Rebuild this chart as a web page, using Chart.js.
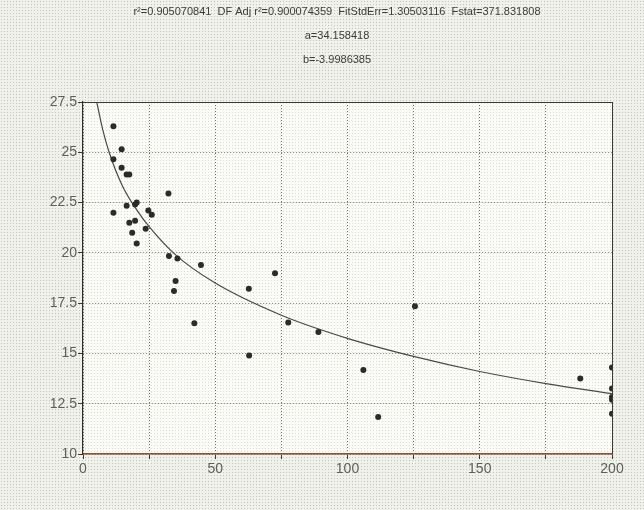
<!DOCTYPE html>
<html>
<head>
<meta charset="utf-8">
<script src="https://cdn.jsdelivr.net/npm/chart.js@4.4.1/dist/chart.umd.min.js"></script>
<style>
  html, body { margin: 0; padding: 0; background: #ebebe6; }
  #wrap { width: 644px; height: 510px; }
</style>
</head>
<body>
<div id="wrap"><canvas id="fit" width="644" height="510"></canvas></div>
<script>
const obsX = [11.5, 14.6, 11.5, 14.6, 16.5, 17.5, 32.3, 16.5, 19.7, 20.3, 11.5, 24.7, 26.0, 17.5, 19.7,
              23.7, 18.6, 20.3, 32.5, 35.7, 44.6, 35.0, 34.4, 42.1, 62.7, 62.8, 72.6, 77.6, 89.0, 125.5,
              106.0, 111.6, 188.0, 200, 200, 200, 200, 200];
const obsY = [26.3, 25.15, 24.65, 24.23, 23.9, 23.9, 22.95, 22.34, 22.4, 22.5, 22.0, 22.1, 21.9, 21.5, 21.6,
              21.2, 21.0, 20.47, 19.84, 19.72, 19.4, 18.6, 18.1, 16.5, 18.22, 14.9, 18.98, 16.54, 16.07, 17.35,
              14.17, 11.84, 13.75, 14.3, 13.26, 12.84, 12.7, 12.0];

// fitted curve, points
const fitX = [5.2, 7.5, 10, 15, 20, 25, 35, 50, 75, 100, 125, 150, 175, 200];
const fitY = [27.5, 26.1, 24.95, 23.3, 22.2, 21.3, 19.9, 18.5, 16.9, 15.75, 14.85, 14.1, 13.5, 13.0];

const xMin = 0, xMax = 200, xStep = 25;
const xLabeled = [0, 50, 100, 150, 200];
const yMin = 10, yMax = 27.5, yStep = 2.5;

const titleLines = [
    "r\u00b2=0.905070841  DF Adj r\u00b2=0.900074359  FitStdErr=1.30503116  Fstat=371.831808",
    "a=34.158418",
    "b=-3.9986385"
];

// dotted screen texture like the scanned original
function dotPattern(ctx, bg, dot) {
    const c = document.createElement('canvas');
    c.width = 3; c.height = 3;
    const g = c.getContext('2d');
    g.fillStyle = bg; g.fillRect(0, 0, 3, 3);
    g.fillStyle = dot; g.fillRect(1, 1, 1, 1);
    return ctx.createPattern(c, 'repeat');
}

const paperBg = {
    id: 'paperBg',
    beforeDraw(chart) {
        const { ctx, chartArea: a } = chart;
        ctx.save();
        ctx.fillStyle = dotPattern(ctx, '#f1f1ec', '#c4c4bc');
        ctx.fillRect(0, 0, chart.width, chart.height);
        ctx.fillStyle = dotPattern(ctx, '#fbfbf8', '#dcdcd4');
        ctx.fillRect(a.left, a.top, a.right - a.left, a.bottom - a.top);
        ctx.restore();
    },
    afterDraw(chart) {
        const { ctx, chartArea: a } = chart;
        ctx.save();
        // frame top and right
        ctx.strokeStyle = '#3a3a36';
        ctx.lineWidth = 1;
        ctx.beginPath();
        ctx.moveTo(a.left, a.top + 0.5);
        ctx.lineTo(a.right + 0.5, a.top + 0.5);
        ctx.lineTo(a.right + 0.5, a.bottom);
        ctx.stroke();
        // fit statistics, centred a bit right of the canvas middle like the original
        ctx.fillStyle = '#3c3c38';
        ctx.font = '11px "Liberation Sans", Arial, sans-serif';
        ctx.textAlign = 'center';
        ctx.textBaseline = 'middle';
        titleLines.forEach((t, i) => ctx.fillText(t, 337, 12 + i * 24));
        ctx.restore();
    }
};

const ctx = document.getElementById('fit').getContext('2d');
new Chart(ctx, {
    type: 'scatter',
    data: {
        datasets: [
            {
                label: 'fit',
                data: fitX.map((x, i) => ({ x: x, y: fitY[i] })),
                showLine: true,
                borderColor: '#4a4a46',
                borderWidth: 1.2,
                pointRadius: 0,
                cubicInterpolationMode: 'monotone',
                fill: false,
                order: 2
            },
            {
                label: 'data',
                data: obsX.map((x, i) => ({ x: x, y: obsY[i] })),
                backgroundColor: '#2b2b27',
                borderColor: '#2b2b27',
                pointRadius: 3,
                borderWidth: 0,
                order: 1
            }
        ]
    },
    options: {
        responsive: false,
        animation: false,
        layout: { padding: { left: 0, right: 32, top: 102, bottom: 0 } },
        scales: {
            x: {
                type: 'linear',
                min: xMin,
                max: xMax,
                afterFit(scale) { scale.height = 56; },
                ticks: {
                    stepSize: xStep,
                    autoSkip: false,
                    maxRotation: 0,
                    padding: 2,
                    color: '#5e5e5a',
                    font: { family: 'Liberation Sans, Arial, sans-serif', size: 14 },
                    callback: v => xLabeled.includes(v) ? String(v) : ''
                },
                grid: {
                    color: '#707068',
                    lineWidth: 1,
                    tickLength: 5,
                    tickColor: '#3a3a36',
                    tickBorderDash: []
                },
                border: { display: true, color: '#8e4f2e', width: 1.5, dash: [1, 2] }
            },
            y: {
                type: 'linear',
                min: yMin,
                max: yMax,
                afterFit(scale) { scale.width = 83; },
                ticks: {
                    stepSize: yStep,
                    padding: 1,
                    color: '#5e5e5a',
                    font: { family: 'Liberation Sans, Arial, sans-serif', size: 14 }
                },
                grid: {
                    color: '#7a7a5e',
                    lineWidth: 1,
                    tickLength: 5,
                    tickColor: '#3a3a36',
                    tickBorderDash: []
                },
                border: { display: true, color: '#2e2e2a', width: 1.2, dash: [1, 2] }
            }
        },
        plugins: {
            legend: { display: false },
            tooltip: { enabled: false },
            title: { display: false }
        }
    },
    plugins: [paperBg]
});
</script>
</body>
</html>
